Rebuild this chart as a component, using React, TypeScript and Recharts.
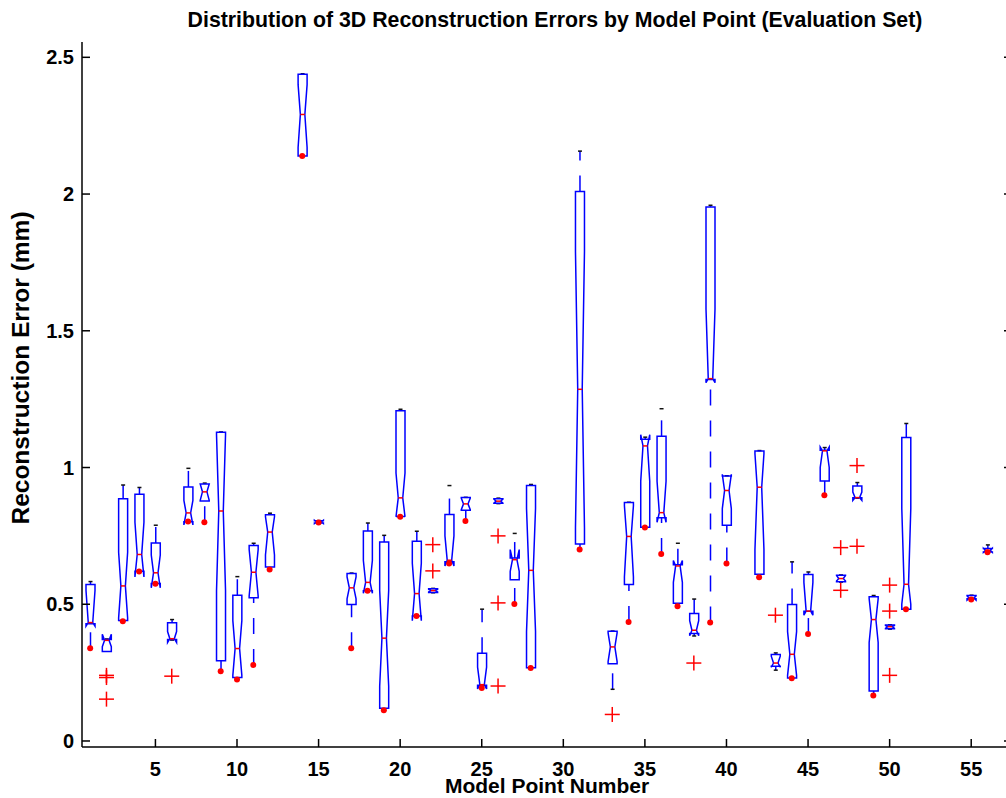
import React from 'react';
import { ComposedChart, Bar, Scatter, XAxis, YAxis } from 'recharts';

// model points that have a box (13, 16, 29, 30, 32, 41, 52-54 are empty)
const points = [1, 2, 3, 4, 5, 6, 7, 8, 9, 10, 11, 12, 14, 15, 17, 18, 19, 20, 21, 22, 23, 24, 25, 26, 27, 28, 31, 33, 34, 35, 36, 37, 38, 39, 40, 42, 43, 44, 45, 46, 47, 48, 49, 50, 51, 55, 56];

const lowerQuartile = [0.429, 0.327, 0.441, 0.621, 0.576, 0.371, 0.802, 0.878, 0.293, 0.232, 0.524, 0.636, 2.139, 0.797, 0.499, 0.549, 0.12, 0.821, 0.457, 0.543, 0.655, 0.844, 0.204, 0.869, 0.59, 0.268, 0.72, 0.282, 0.572, 0.782, 0.816, 0.504, 0.393, 1.322, 0.789, 0.61, 0.273, 0.23, 0.474, 0.951, 0.582, 0.889, 0.183, 0.41, 0.482, 0.52, 0.691];
const medians = [0.433, 0.368, 0.567, 0.682, 0.615, 0.374, 0.834, 0.911, 0.841, 0.338, 0.617, 0.764, 2.291, 0.801, 0.56, 0.58, 0.376, 0.889, 0.539, 0.55, 0.661, 0.867, 0.206, 0.877, 0.663, 0.624, 1.286, 0.344, 0.748, 1.079, 0.835, 0.64, 0.405, 1.325, 0.916, 0.928, 0.285, 0.317, 0.475, 1.061, 0.594, 0.89, 0.444, 0.418, 0.573, 0.522, 0.697];
const upperQuartile = [0.572, 0.371, 0.886, 0.902, 0.724, 0.432, 0.929, 0.94, 1.129, 0.533, 0.715, 0.827, 2.438, 0.805, 0.612, 0.768, 0.728, 1.208, 0.73, 0.557, 0.828, 0.89, 0.321, 0.886, 0.669, 0.934, 2.009, 0.401, 0.872, 1.103, 1.114, 0.644, 0.466, 1.953, 0.969, 1.06, 0.316, 0.499, 0.609, 1.063, 0.606, 0.932, 0.527, 0.424, 1.11, 0.532, 0.704];
const whiskerLow = [0.339, 0.327, 0.438, 0.62, 0.575, 0.369, 0.802, 0.8, 0.255, 0.225, 0.278, 0.627, 2.139, 0.797, 0.339, 0.549, 0.112, 0.82, 0.457, 0.542, 0.649, 0.804, 0.194, 0.868, 0.501, 0.267, 0.7, 0.189, 0.435, 0.781, 0.684, 0.493, 0.384, 0.433, 0.649, 0.599, 0.259, 0.229, 0.391, 0.899, 0.581, 0.888, 0.166, 0.409, 0.482, 0.517, 0.69];
const whiskerHigh = [0.583, 0.373, 0.936, 0.927, 0.789, 0.444, 0.997, 0.943, 1.13, 0.601, 0.723, 0.833, 2.44, 0.806, 0.614, 0.797, 0.752, 1.213, 0.767, 0.558, 0.934, 0.891, 0.482, 0.888, 0.759, 0.938, 2.157, 0.402, 0.873, 1.111, 1.215, 0.723, 0.519, 1.959, 0.97, 1.062, 0.322, 0.655, 0.618, 1.073, 0.607, 0.945, 0.532, 0.425, 1.161, 0.533, 0.717];
const notchLow = [0.42, 0.345, 0.45, 0.6, 0.56, 0.36, 0.79, 0.88, 0.55, 0.24, 0.53, 0.68, 2.17, 0.795, 0.52, 0.54, 0.2, 0.82, 0.44, 0.545, 0.64, 0.846, 0.19, 0.87, 0.62, 0.4, 0.78, 0.29, 0.6, 0.95, 0.8, 0.58, 0.385, 1.31, 0.85, 0.7, 0.27, 0.24, 0.46, 1.0, 0.585, 0.88, 0.36, 0.412, 0.5, 0.515, 0.69];
const notchHigh = [0.55, 0.39, 0.69, 0.8, 0.68, 0.4, 0.88, 0.94, 1.12, 0.44, 0.7, 0.82, 2.4, 0.807, 0.6, 0.66, 0.55, 0.98, 0.65, 0.555, 0.75, 0.888, 0.27, 0.884, 0.7, 0.85, 1.79, 0.395, 0.86, 1.12, 0.95, 0.66, 0.44, 1.58, 0.975, 1.05, 0.31, 0.4, 0.58, 1.075, 0.605, 0.91, 0.52, 0.422, 0.85, 0.53, 0.705];
const lowDots = [0.339, null, 0.438, 0.62, 0.575, null, 0.803, 0.8, 0.255, 0.225, 0.278, 0.627, 2.139, 0.799, 0.339, 0.549, 0.112, 0.82, 0.457, null, 0.649, 0.804, 0.194, null, 0.501, 0.267, 0.7, null, 0.435, 0.781, 0.684, 0.493, null, 0.433, 0.649, 0.599, null, 0.229, 0.391, 0.899, null, null, 0.166, null, 0.482, 0.517, 0.69];

const outlierPoints = [2, 2, 2, 6, 22, 22, 26, 26, 26, 33, 38, 43, 47, 47, 48, 48, 50, 50, 50];
const outlierValues = [0.24, 0.232, 0.153, 0.237, 0.718, 0.622, 0.75, 0.505, 0.201, 0.097, 0.285, 0.46, 0.707, 0.551, 1.007, 0.712, 0.57, 0.475, 0.24];

const xTicks = [5, 10, 15, 20, 25, 30, 35, 40, 45, 50, 55];
const yTicks = [0, 0.5, 1, 1.5, 2, 2.5];

const FONT = '"Liberation Sans", Arial, Helvetica, sans-serif';
const BOX_HALF = 4.5;

const rows = points.map((p, i) => {
  const lo = Math.min(whiskerLow[i], lowerQuartile[i], notchLow[i]);
  const hi = Math.max(whiskerHigh[i], upperQuartile[i], notchHigh[i]);
  return {
    x: p,
    range: [lo, hi],
    q1: lowerQuartile[i],
    med: medians[i],
    q3: upperQuartile[i],
    wLo: whiskerLow[i],
    wHi: whiskerHigh[i],
    nLo: notchLow[i],
    nHi: notchHigh[i],
    dot: lowDots[i],
  };
});

const dotRows = rows.filter((r) => r.dot !== null);
const outlierRows = outlierPoints.map((p, i) => ({ x: p, v: outlierValues[i] }));

// notched box + dashed whiskers; pixel scale taken from the bar the library laid out
const BoxShape = (props: any) => {
  const { x, y, width, height, payload } = props;
  const [lo, hi] = payload.range;
  const top = Math.min(y, y + height);
  const k = Math.abs(height) / (hi - lo);
  const py = (v: number) => top + (hi - v) * k;
  const cx = x + width / 2;
  const L = cx - BOX_HALF;
  const R = cx + BOX_HALF;
  const iL = L + BOX_HALF / 2;
  const iR = R - BOX_HALF / 2;
  const pts = [
    [L, py(payload.q3)],
    [R, py(payload.q3)],
    [R, py(payload.nHi)],
    [iR, py(payload.med)],
    [R, py(payload.nLo)],
    [R, py(payload.q1)],
    [L, py(payload.q1)],
    [L, py(payload.nLo)],
    [iL, py(payload.med)],
    [L, py(payload.nHi)],
  ]
    .map((p) => p.join(','))
    .join(' ');
  return (
    <g>
      {payload.wHi > payload.q3 && (
        <>
          <line x1={cx} x2={cx} y1={py(payload.q3)} y2={py(payload.wHi)} stroke="#0000ff" strokeWidth={1.5} strokeDasharray="16 15" />
          <line x1={cx - 2} x2={cx + 2} y1={py(payload.wHi)} y2={py(payload.wHi)} stroke="#111" strokeWidth={1.5} />
        </>
      )}
      {payload.wLo < payload.q1 && (
        <>
          <line x1={cx} x2={cx} y1={py(payload.wLo)} y2={py(payload.q1)} stroke="#0000ff" strokeWidth={1.5} strokeDasharray="16 15" />
          <line x1={cx - 2} x2={cx + 2} y1={py(payload.wLo)} y2={py(payload.wLo)} stroke="#111" strokeWidth={1.5} />
        </>
      )}
      <polygon points={pts} fill="none" stroke="#0000ff" strokeWidth={1.5} />
      <line x1={iL} x2={iR} y1={py(payload.med)} y2={py(payload.med)} stroke="#ff0000" strokeWidth={1.5} />
    </g>
  );
};

const RedDot = ({ cx, cy }: any) => <circle cx={cx} cy={cy} r={3} fill="#ff0000" />;

const RedCross = ({ cx, cy }: any) => (
  <g stroke="#ff0000" strokeWidth={1.5}>
    <line x1={cx - 7.5} x2={cx + 7.5} y1={cy} y2={cy} />
    <line x1={cx} x2={cx} y1={cy - 7.5} y2={cy + 7.5} />
  </g>
);

// MATLAB style ticks pointing into the box
const LeftTick = ({ x, y, payload }: any) => (
  <g>
    <line x1={x} x2={x + 8} y1={y} y2={y} stroke="#000" strokeWidth={1.5} />
    <text x={x - 8} y={y + 7} textAnchor="end" fontSize={20} fontWeight="bold" fontFamily={FONT} fill="#000">
      {payload.value}
    </text>
  </g>
);
const RightTick = ({ x, y }: any) => <line x1={x - 8} x2={x} y1={y} y2={y} stroke="#000" strokeWidth={1.5} />;
const BottomTick = ({ x, y, payload }: any) => (
  <g>
    <line x1={x} x2={x} y1={y} y2={y - 8} stroke="#000" strokeWidth={1.5} />
    <text x={x} y={y + 29} textAnchor="middle" fontSize={20} fontWeight="bold" fontFamily={FONT} fill="#000">
      {payload.value}
    </text>
  </g>
);
const TopTick = ({ x, y }: any) => <line x1={x} x2={x} y1={y} y2={y + 9} stroke="#000" strokeWidth={1.5} />;

const axisLine = { stroke: '#000', strokeWidth: 1.5 };

export default function App() {
  return (
    <div style={{ position: 'absolute', left: 0, top: 0, width: 1006, height: 798, overflow: 'hidden', background: '#fff' }}>
      <ComposedChart width={1013} height={798} data={rows} margin={{ top: 42, right: 0, bottom: 0, left: 0 }}>
        <XAxis dataKey="x" type="number" domain={[0.5, 57.5]} allowDataOverflow ticks={xTicks} height={51} tickSize={0} tickMargin={0} tickLine={false} axisLine={axisLine} tick={<BottomTick />} interval={0} />
        <XAxis xAxisId="top" orientation="top" type="number" domain={[0.5, 57.5]} allowDataOverflow ticks={xTicks} height={0} tickSize={0} tickMargin={0} tickLine={false} axisLine={axisLine} tick={<TopTick />} interval={0} />
        <YAxis type="number" domain={[-0.022, 2.556]} allowDataOverflow ticks={yTicks} width={82} tickSize={0} tickMargin={0} tickLine={false} axisLine={axisLine} tick={<LeftTick />} interval={0} />
        <YAxis yAxisId="right" orientation="right" type="number" domain={[-0.022, 2.556]} allowDataOverflow ticks={yTicks} width={1} tickSize={0} tickMargin={0} tickLine={false} axisLine={axisLine} tick={<RightTick />} interval={0} />
        <Bar dataKey="range" barSize={9} shape={<BoxShape />} isAnimationActive={false} />
        <Scatter data={dotRows} dataKey="dot" shape={<RedDot />} isAnimationActive={false} />
        <Scatter data={outlierRows} dataKey="v" shape={<RedCross />} isAnimationActive={false} />
      </ComposedChart>
      <svg width={1006} height={798} style={{ position: 'absolute', left: 0, top: 0, pointerEvents: 'none' }}>
        <text x={555} y={27} textAnchor="middle" fontSize={21.3} fontWeight="bold" fontFamily={FONT} fill="#000">
          Distribution of 3D Reconstruction Errors by Model Point (Evaluation Set)
        </text>
        <text x={547} y={793} textAnchor="middle" fontSize={21} fontWeight="bold" fontFamily={FONT} fill="#000">
          Model Point Number
        </text>
        <text transform="translate(29,368) rotate(-90)" textAnchor="middle" fontSize={24.5} fontWeight="bold" fontFamily={FONT} fill="#000">
          Reconstruction Error (mm)
        </text>
      </svg>
    </div>
  );
}
